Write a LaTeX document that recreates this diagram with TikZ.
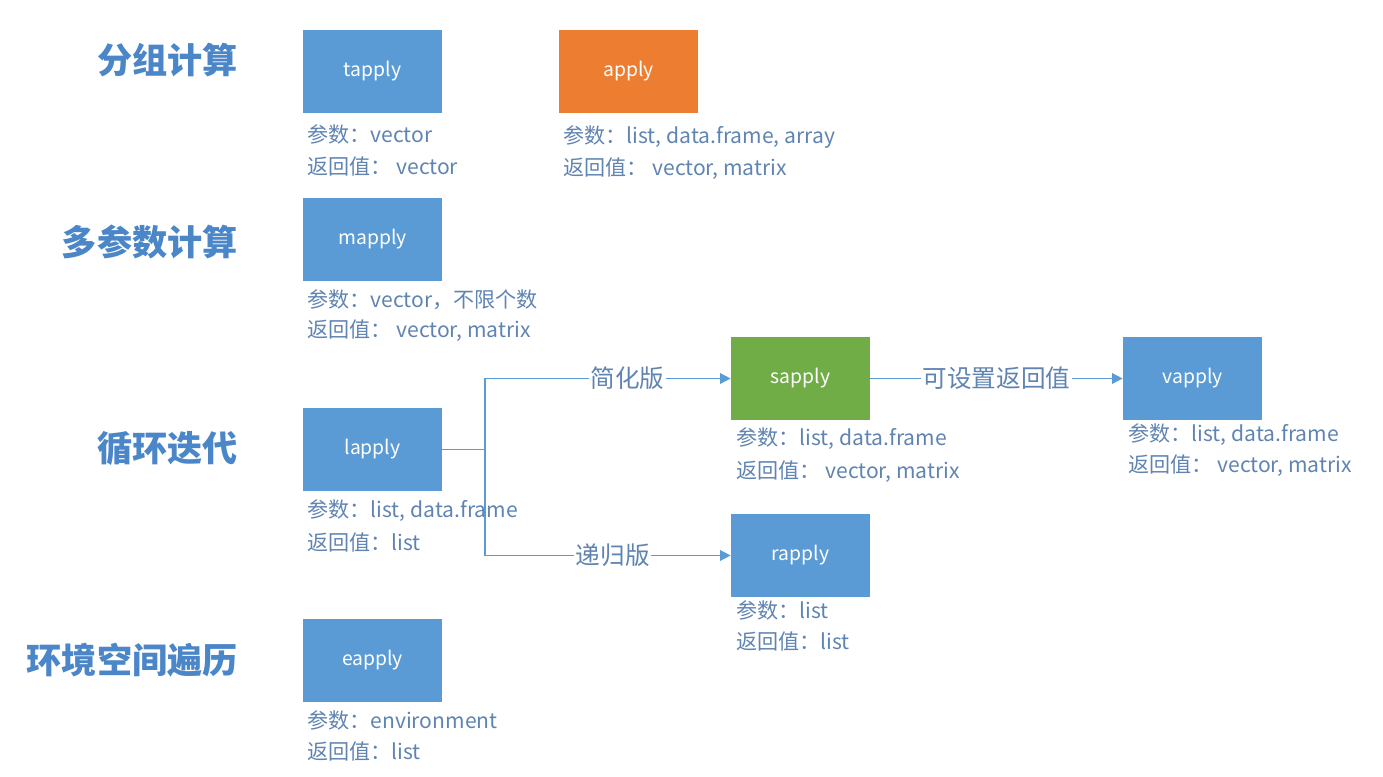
\documentclass[tikz,border=0pt]{standalone}
\usepackage{fontspec}
\setmainfont{Noto Sans CJK SC}
\usetikzlibrary{arrows.meta}
\definecolor{boxblue}{RGB}{91,155,213}
\definecolor{boxorange}{RGB}{237,125,49}
\definecolor{boxgreen}{RGB}{112,173,71}
\definecolor{infotext}{RGB}{96,132,178}
\definecolor{headblue}{RGB}{74,134,200}
\tikzset{
	box/.style={minimum width=2.78cm, minimum height=1.66cm, inner sep=0pt, text=white, font=\fontsize{11}{13}\selectfont},
	info/.style={anchor=west, inner sep=0pt, text=infotext, font=\fontsize{12}{14}\selectfont},
	heading/.style={anchor=east, inner sep=0pt, text=headblue, font=\fontsize{20}{24}\selectfont\bfseries},
	conn/.style={draw=boxblue, line width=0.9pt},
	lbl/.style={fill=white, inner sep=1pt, text=infotext, font=\fontsize{14}{16}\selectfont}
}
\begin{document}
\begin{tikzpicture}[>={Triangle[length=6pt, width=6pt]}]
	\useasboundingbox (0, 0) rectangle (27.66, -15.54);
	
	% Tiêu đề bên trái
	\node[heading] (h1) at (4.76, -1.2) {分组计算};
	\node[heading] (h2) at (4.76, -4.84) {多参数计算};
	\node[heading] (h3) at (4.76, -8.96) {循环迭代};
	\node[heading] (h4) at (4.76, -13.2) {环境空间遍历};
	
	% Các hộp
	\node[box, fill=boxblue] (tapply) at (7.45, -1.43) {tapply};
	\node[box, fill=boxorange] (apply) at (12.57, -1.43) {apply};
	\node[box, fill=boxblue] (mapply) at (7.45, -4.79) {mapply};
	\node[box, fill=boxblue] (lapply) at (7.45, -8.99) {lapply};
	\node[box, fill=boxgreen] (sapply) at (16.01, -7.57) {sapply};
	\node[box, fill=boxblue] (vapply) at (23.85, -7.57) {vapply};
	\node[box, fill=boxblue] (rapply) at (16.01, -11.11) {rapply};
	\node[box, fill=boxblue] (eapply) at (7.45, -13.21) {eapply};
	
	% Tham số và giá trị trả về
	\node[info] (tapply-arg) at (6.14, -2.68) {参数：vector};
	\node[info] (tapply-ret) at (6.14, -3.32) {返回值：\ vector};
	\node[info] (apply-arg) at (11.26, -2.74) {参数：list, data.frame, array};
	\node[info] (apply-ret) at (11.26, -3.38) {返回值：\ vector, matrix};
	\node[info] (mapply-arg) at (6.14, -6.0) {参数：vector，不限个数};
	\node[info] (mapply-ret) at (6.14, -6.62) {返回值：\ vector, matrix};
	\node[info] (lapply-arg) at (6.14, -10.22) {参数：list, data.frame};
	\node[info] (lapply-ret) at (6.14, -10.84) {返回值：list};
	\node[info] (sapply-arg) at (14.72, -8.78) {参数：list, data.frame};
	\node[info] (sapply-ret) at (14.72, -9.44) {返回值：\ vector, matrix};
	\node[info] (vapply-arg) at (22.56, -8.7) {参数：list, data.frame};
	\node[info] (vapply-ret) at (22.56, -9.32) {返回值：\ vector, matrix};
	\node[info] (rapply-arg) at (14.72, -12.2) {参数：list};
	\node[info] (rapply-ret) at (14.72, -12.82) {返回值：list};
	\node[info] (eapply-arg) at (6.14, -14.4) {参数：environment};
	\node[info] (eapply-ret) at (6.14, -15.02) {返回值：list};
	
	% Mũi tên
	\coordinate (split) at (9.7, -8.99);
	\draw[conn] (lapply.east) -- (split);
	\draw[conn, ->] (split) |- node[lbl, pos=0.79] {简化版} (sapply.west);
	\draw[conn, ->] (split) |- node[lbl, pos=0.76] {递归版} (rapply.west);
	\draw[conn, ->] (sapply.east) -- node[lbl] {可设置返回值} (vapply.west);
\end{tikzpicture}
\end{document}
